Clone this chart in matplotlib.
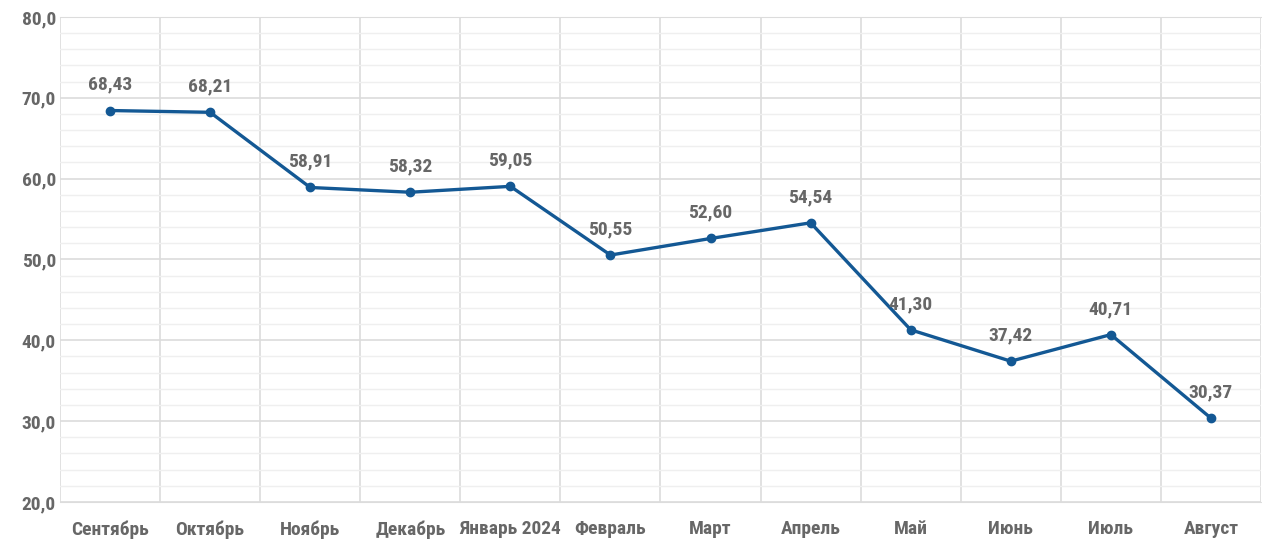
import matplotlib
matplotlib.use('Agg')
import matplotlib.pyplot as plt
from matplotlib.ticker import MultipleLocator, FixedLocator, FuncFormatter

months = ['Сентябрь', 'Октябрь', 'Ноябрь', 'Декабрь', 'Январь 2024', 'Февраль',
          'Март', 'Апрель', 'Май', 'Июнь', 'Июль', 'Август']
values = [68.43, 68.21, 58.91, 58.32, 59.05, 50.55, 52.60, 54.54, 41.30, 37.42, 40.71, 30.37]

plt.rcParams['font.family'] = ['Roboto Condensed', 'DejaVu Sans']
plt.rcParams['font.stretch'] = 'condensed'

fig = plt.figure(figsize=(12.62, 5.4), dpi=100)
ax = fig.add_axes([60 / 1262, 38 / 540, 1201 / 1262, 485 / 540])

x = list(range(len(months)))
ax.plot(x, values, color='#135894', linewidth=2.4, marker='o', markersize=6, zorder=3)

for xi, v in zip(x, values):
    ax.annotate(f'{v:.2f}'.replace('.', ','), (xi, v), xytext=(0, 12),
                textcoords='offset points', ha='center', va='bottom',
                fontsize=14, fontweight='bold', color='#676767')

ax.set_xlim(-0.5, len(months) - 0.5)
ax.set_ylim(20, 80)
ax.yaxis.set_major_locator(MultipleLocator(10))
ax.yaxis.set_minor_locator(MultipleLocator(2))
ax.yaxis.set_major_formatter(FuncFormatter(lambda v, p: f'{v:.1f}'.replace('.', ',')))
ax.set_xticks(x)
ax.set_xticklabels(months)
ax.xaxis.set_minor_locator(FixedLocator([i + 0.5 for i in range(-1, len(months))]))

ax.grid(which='major', axis='y', color='#dcdcdc', linewidth=1.2)
ax.grid(which='minor', axis='y', color='#efefef', linewidth=1.0)
ax.grid(which='minor', axis='x', color='#dcdcdc', linewidth=1.2)
ax.set_axisbelow(True)

for s in ax.spines.values():
    s.set_visible(False)
ax.spines['bottom'].set_visible(True)
ax.spines['bottom'].set_color('#dcdcdc')
ax.spines['top'].set_visible(True)
ax.spines['top'].set_color('#dcdcdc')

ax.tick_params(which='both', length=0)
ax.tick_params(axis='x', pad=13)
ax.tick_params(axis='y', pad=3)
for lab in ax.get_xticklabels() + ax.get_yticklabels():
    lab.set_fontsize(14)
    lab.set_fontweight('bold')
    lab.set_color('#676767')

fig.savefig('out.png', dpi=100)
